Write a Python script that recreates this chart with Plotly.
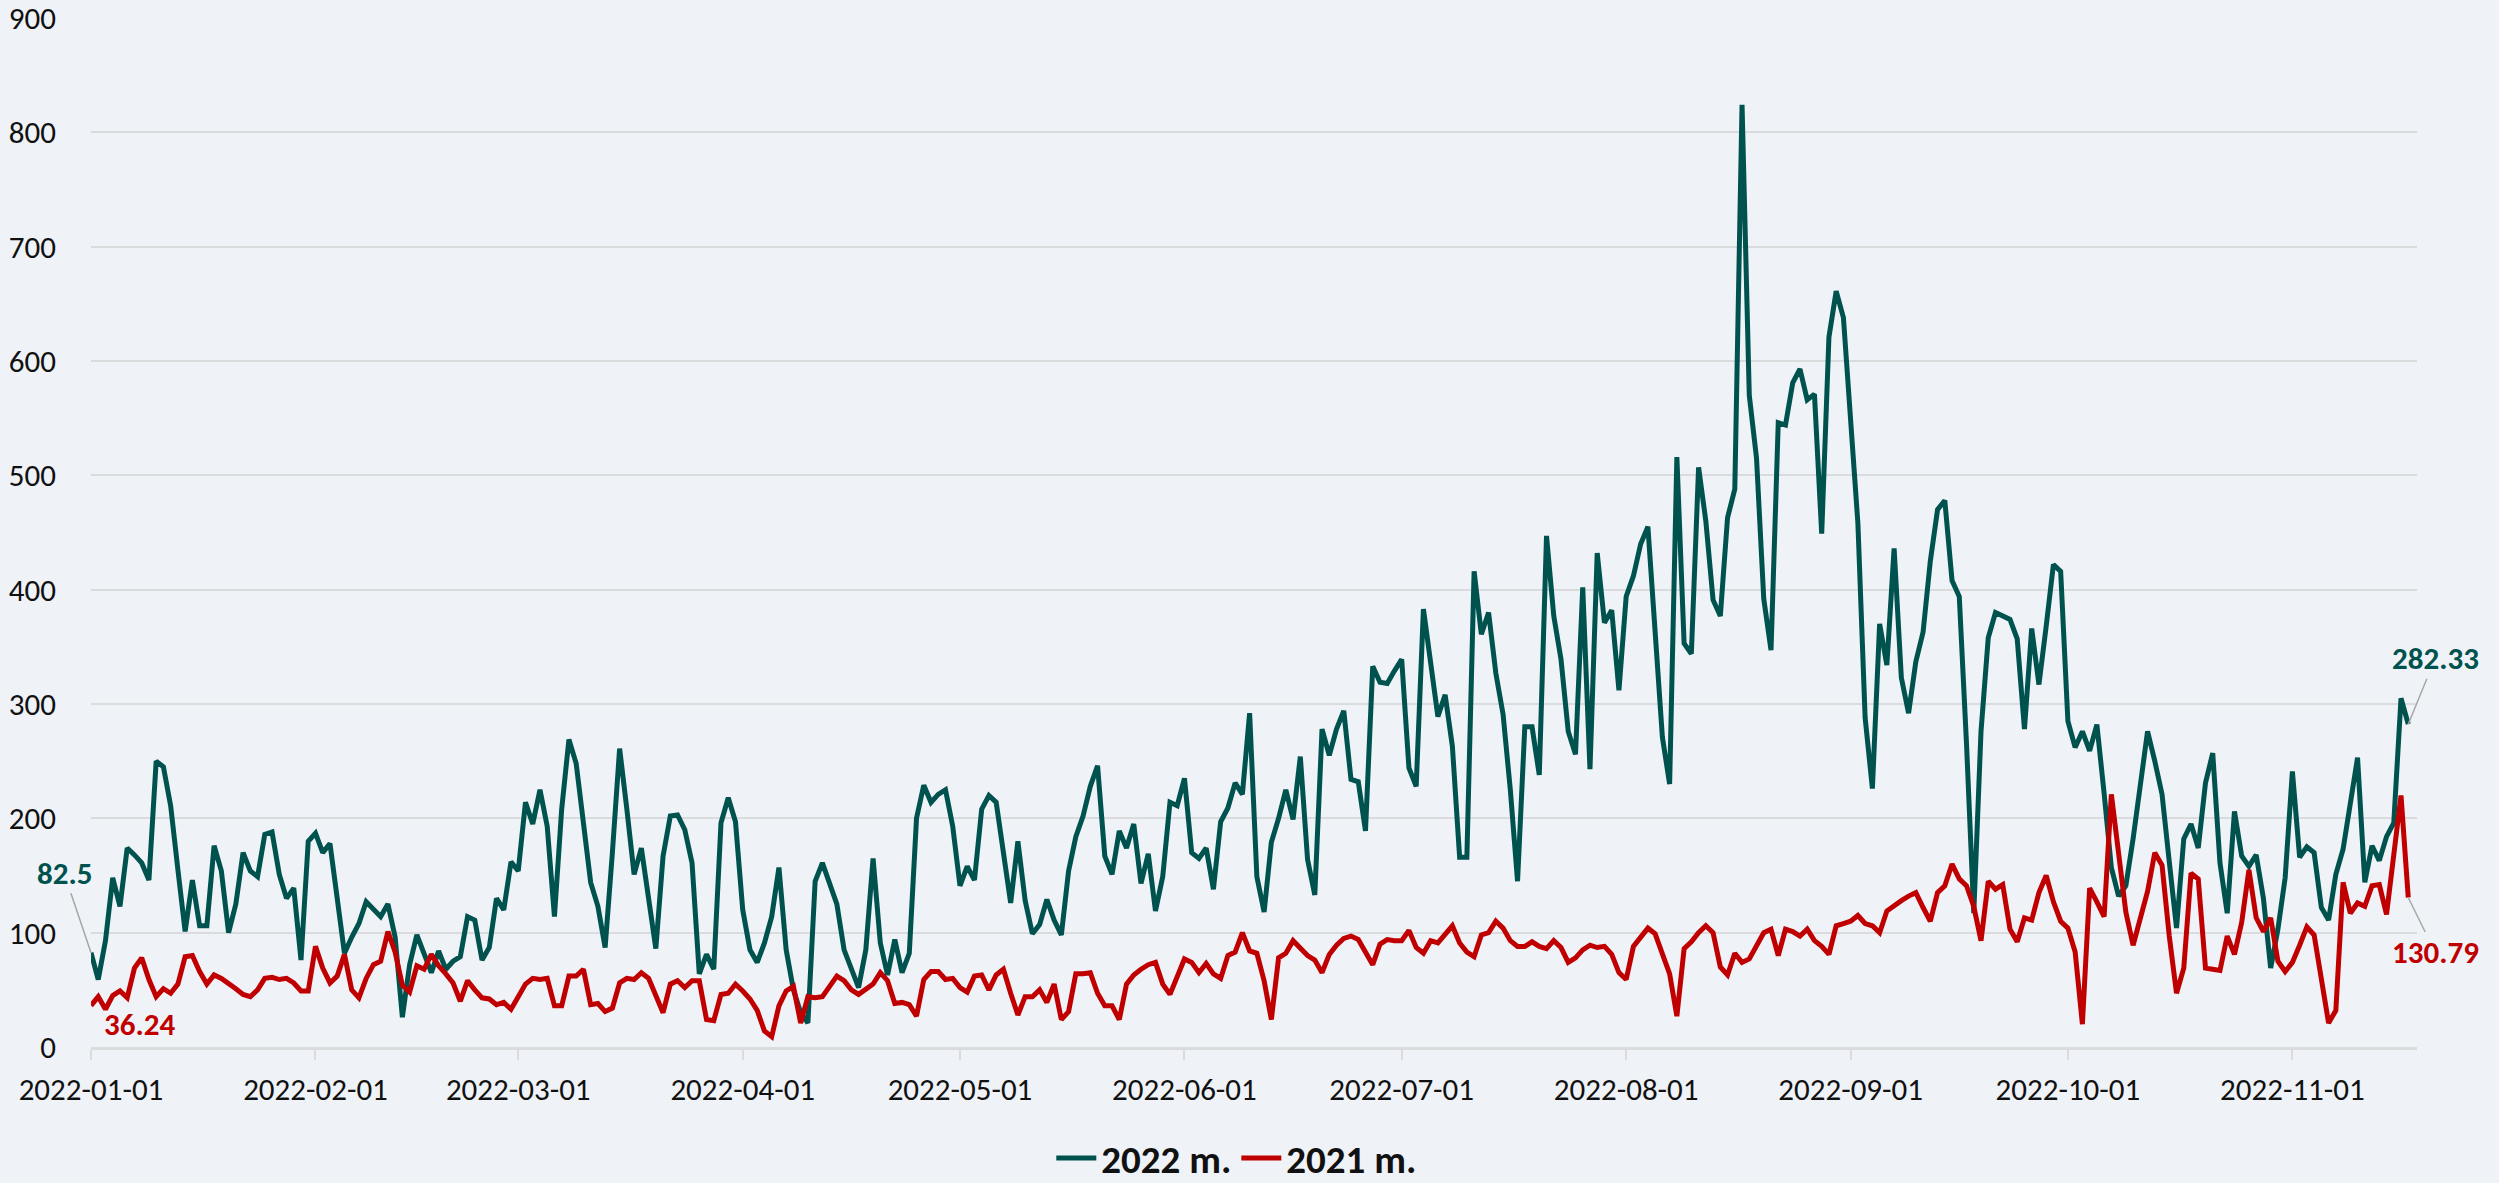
import pandas as pd
import plotly.graph_objects as go

start_date = "2022-01-01"
n_days = 321
dates = pd.date_range(start_date, periods=n_days, freq="D")

series_2022 = [
    82.5, 59, 93, 148, 123, 174, 168, 161, 146, 250,
    245, 211, 155, 101, 146, 106, 106, 176, 154, 100,
    125, 170, 154, 149, 186, 188, 151, 130, 139, 76,
    180, 187, 170, 178, 130, 82, 96, 108, 127, 120,
    114, 125, 96, 26, 72, 98, 82, 65, 84, 68,
    75, 79, 114, 111, 76, 87, 130, 120, 162, 154,
    214, 195, 225, 193, 114, 208, 269, 248, 196, 144,
    123, 87, 170, 261, 208, 151, 174, 129, 86, 167,
    202, 203, 190, 161, 64, 81, 68, 196, 218, 197,
    120, 85, 74, 91, 114, 157, 85, 50, 30, 21,
    145, 161, 142, 125, 85, 69, 52, 85, 165, 91,
    63, 94, 65, 82, 200, 229, 214, 221, 225, 193,
    141, 158, 146, 208, 220, 214, 170, 126, 180, 128,
    99, 107, 129, 111, 98, 154, 184, 202, 228, 246,
    167, 151, 189, 174, 195, 143, 169, 119, 149, 214,
    211, 235, 170, 165, 174, 138, 197, 209, 231, 221,
    292, 149, 118, 179, 200, 225, 199, 254, 164, 133,
    278, 255, 278, 294, 234, 232, 189, 333, 319, 318,
    329, 339, 244, 228, 383, 339, 289, 308, 263, 166,
    166, 416, 361, 380, 327, 291, 225, 145, 280, 280,
    238, 447, 377, 339, 276, 256, 402, 243, 432, 371,
    382, 312, 394, 412, 440, 455, 365, 271, 230, 516,
    353, 344, 507, 460, 391, 377, 463, 488, 824, 570,
    515, 392, 347, 546, 544, 581, 593, 566, 571, 449,
    621, 661, 638, 555, 458, 288, 226, 370, 334, 436,
    323, 292, 337, 363, 425, 470, 478, 408, 394, 265,
    117, 276, 358, 380, 377, 374, 357, 278, 366, 317,
    368, 422, 416, 285, 262, 276, 259, 282, 222, 157,
    132, 141, 182, 230, 276, 250, 221, 162, 104, 182,
    195, 174, 231, 257, 161, 117, 206, 167, 158, 168,
    130, 69, 103, 148, 241, 166, 175, 170, 122, 111,
    151, 173, 212, 253, 144, 176, 163, 184, 196, 305,
    282.33,
]

series_2021 = [
    36.24, 44, 33, 45, 49, 43, 69, 78, 59, 44,
    51, 47, 55, 79, 80, 66, 55, 63, 60, 56,
    51, 46, 44, 50, 60, 61, 59, 60, 56, 49,
    49, 88, 69, 56, 62, 81, 50, 43, 60, 72,
    75, 101, 83, 54, 48, 71, 68, 81, 71, 64,
    56, 40, 58, 50, 43, 42, 37, 39, 33, 44,
    55, 60, 59, 60, 36, 36, 62, 62, 68, 37,
    38, 31, 34, 56, 60, 59, 65, 60, 46, 30,
    55, 58, 52, 58, 58, 24, 23, 46, 47, 55,
    49, 42, 32, 14, 9, 36, 49, 53, 21, 44,
    43, 44, 53, 62, 58, 50, 46, 50, 55, 65,
    58, 38, 39, 37, 27, 59, 66, 66, 59, 60,
    52, 48, 62, 63, 50, 63, 68, 47, 28, 44,
    44, 50, 39, 55, 24, 31, 64, 64, 65, 47,
    36, 36, 24, 55, 63, 68, 72, 74, 55, 46,
    62, 77, 74, 65, 73, 64, 60, 80, 83, 100,
    84, 82, 58, 24, 78, 82, 93, 86, 80, 76,
    65, 81, 89, 95, 97, 94, 82, 72, 90, 94,
    93, 93, 102, 87, 82, 93, 91, 98, 106, 91,
    83, 79, 98, 100, 110, 104, 93, 88, 88, 92,
    88, 86, 93, 87, 74, 78, 85, 89, 87, 88,
    81, 65, 59, 88, 96, 104, 99, 80, 64, 27,
    86, 92, 100, 106, 100, 70, 63, 82, 74, 77,
    89, 100, 103, 80, 103, 101, 97, 103, 93, 88,
    81, 106, 108, 110, 115, 108, 106, 100, 119, 124,
    128, 132, 135, 122, 110, 135, 141, 160, 147, 141,
    123, 93, 145, 138, 142, 103, 92, 113, 111, 135,
    150, 127, 110, 104, 83, 20, 139, 127, 114, 221,
    172, 118, 89, 114, 136, 170, 159, 97, 47, 69,
    152, 147, 69, 68, 67, 97, 81, 109, 155, 113,
    101, 113, 75, 66, 74, 89, 105, 98, 59, 21,
    32, 144, 117, 126, 123, 141, 142, 116, 168, 220,
    130.79,
]

series_names = ["2022 m.", "2021 m."]
y_ticks = [0, 100, 200, 300, 400, 500, 600, 700, 800, 900]

TEAL = "#00524F"
RED = "#C00000"
BG = "#EFF3F7"
GRID = "#D9DBDD"
FONT = "Calibri, Carlito, Lato, sans-serif"
TXT = "#111111"

fig = go.Figure()
fig.add_trace(go.Scatter(x=dates, y=series_2022, mode="lines", name="<b>%s</b>" % series_names[0],
                         line=dict(color=TEAL, width=5)))
fig.add_trace(go.Scatter(x=dates, y=series_2021, mode="lines", name="<b>%s</b>" % series_names[1],
                         line=dict(color=RED, width=5)))

first_x = dates[0]
last_x = dates[-1]

fig.add_annotation(x=first_x, y=series_2022[0], text="<b>%g</b>" % series_2022[0],
                   showarrow=True, arrowhead=0, arrowwidth=1.5, arrowcolor="#A6A6A6",
                   ax=-27, ay=-80, standoff=0,
                   font=dict(family=FONT, size=31, color=TEAL))
fig.add_annotation(x=first_x, y=series_2021[0], text="<b>%g</b>" % series_2021[0],
                   showarrow=False, xshift=48, yshift=-18,
                   font=dict(family=FONT, size=31, color=RED))
fig.add_annotation(x=last_x, y=series_2022[-1], text="<b>%g</b>" % series_2022[-1],
                   showarrow=True, arrowhead=0, arrowwidth=1.5, arrowcolor="#A6A6A6",
                   ax=27, ay=-66, standoff=0,
                   font=dict(family=FONT, size=31, color=TEAL))
fig.add_annotation(x=last_x, y=series_2021[-1], text="<b>%g</b>" % series_2021[-1],
                   showarrow=True, arrowhead=0, arrowwidth=1.5, arrowcolor="#A6A6A6",
                   ax=27, ay=55, standoff=0,
                   font=dict(family=FONT, size=31, color=RED))

fig.update_layout(
    width=2499, height=1183,
    paper_bgcolor=BG, plot_bgcolor=BG,
    margin=dict(l=91, r=82, t=18, b=136, autoexpand=False),
    font=dict(family=FONT, size=31, color=TXT),
    showlegend=True,
    legend=dict(orientation="h", x=0.4926, xanchor="center",
                yref="container", y=0.021, yanchor="middle",
                font=dict(family=FONT, size=39, color=TXT),
                bgcolor="rgba(0,0,0,0)", itemwidth=40, traceorder="normal"),
)

fig.update_xaxes(
    type="date", automargin=False,
    range=["2022-01-01", "2022-11-18 05:00"],
    tick0="2022-01-01", dtick="M1", tickformat="%Y-%m-%d",
    ticks="outside", ticklen=10, tickwidth=1.5, tickcolor=GRID,
    showline=True, linecolor=GRID, linewidth=3,
    showgrid=False, zeroline=False,
    ticklabelstandoff=3,
    tickfont=dict(family=FONT, size=31, color=TXT),
)
fig.update_yaxes(
    automargin=False,
    range=[0, 900], tickvals=y_ticks,
    showgrid=True, gridcolor=GRID, gridwidth=1.5,
    zeroline=False, showline=False, ticks="",
    ticklabelstandoff=34, ticklabeloverflow="allow",
    tickfont=dict(family=FONT, size=31, color=TXT),
)

fig.write_html("out.html", config={"displayModeBar": False},
               post_script="document.body.style.margin='0';")
